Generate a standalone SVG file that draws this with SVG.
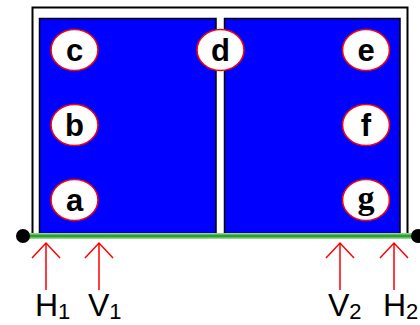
<svg xmlns="http://www.w3.org/2000/svg" width="420" height="325" viewBox="0 0 420 325">
<style>
.panel{fill:#0000ff;stroke:#000;stroke-width:1.5}
.node ellipse{fill:#fff;stroke:#ff0000;stroke-width:1.6}
.lt{font-family:"Liberation Sans",Arial,sans-serif;font-size:31px;font-weight:bold;fill:#000;text-anchor:middle}
.ls{font-family:"Liberation Serif","Times New Roman",serif;font-size:34px;font-weight:bold;fill:#000;text-anchor:middle}
.arrow{stroke:#ff0000;stroke-width:1.5;fill:none}
.lab{font-family:"Liberation Sans",Arial,sans-serif;font-size:32px;fill:#000}
.sub{font-size:22px}
</style>
<rect width="420" height="325" fill="#fff"/>
<g id="frame">
<path d="M32.5,235 V7.5 H407.5 V235" fill="#fff" stroke="#000" stroke-width="2"/>
<rect class="panel" x="39.5" y="18.5" width="176.5" height="215"/>
<rect class="panel" x="224.5" y="18.5" width="175.5" height="215"/>
</g>
<g id="beam">
<line x1="22" y1="236" x2="418" y2="236" stroke="#8fd88f" stroke-width="6"/>
<line x1="22" y1="236" x2="418" y2="236" stroke="#2e9e2e" stroke-width="3"/>
<circle cx="23" cy="236" r="7" fill="#000"/>
<circle cx="418" cy="236" r="7" fill="#000"/>
</g>
<g id="node-c" class="node"><ellipse cx="74.5" cy="50" rx="23.5" ry="20.5"/><text class="lt" x="74.5" y="61">c</text></g>
<g id="node-b" class="node"><ellipse cx="74.5" cy="125" rx="23.5" ry="20.5"/><text class="lt" x="74.5" y="136">b</text></g>
<g id="node-a" class="node"><ellipse cx="74.5" cy="200" rx="23.5" ry="20.5"/><text class="lt" x="74.5" y="211">a</text></g>
<g id="node-d" class="node"><ellipse cx="220.5" cy="50" rx="23.5" ry="20.5"/><text class="lt" x="220.5" y="61">d</text></g>
<g id="node-e" class="node"><ellipse cx="366" cy="50" rx="23.5" ry="20.5"/><text class="lt" x="366" y="61">e</text></g>
<g id="node-f" class="node"><ellipse cx="366" cy="125" rx="23.5" ry="20.5"/><text class="lt" x="366" y="136">f</text></g>
<g id="node-g" class="node"><ellipse cx="366" cy="200" rx="23.5" ry="20.5"/><text class="ls" x="366" y="209">g</text></g>
<g id="connectors">
<path class="arrow" d="M46,290 V243 M32,258 L46,243 L60,258"/>
<path class="arrow" d="M99,290 V243 M85,258 L99,243 L113,258"/>
<path class="arrow" d="M340,290 V243 M326,258 L340,243 L354,258"/>
<path class="arrow" d="M394,290 V243 M380,258 L394,243 L408,258"/>
</g>
<g id="labels">
<text class="lab" x="35" y="316">H<tspan class="sub" dy="3">1</tspan></text>
<text class="lab" x="88" y="316">V<tspan class="sub" dy="3">1</tspan></text>
<text class="lab" x="328" y="316">V<tspan class="sub" dy="3">2</tspan></text>
<text class="lab" x="383" y="316">H<tspan class="sub" dy="3">2</tspan></text>
</g>
</svg>
